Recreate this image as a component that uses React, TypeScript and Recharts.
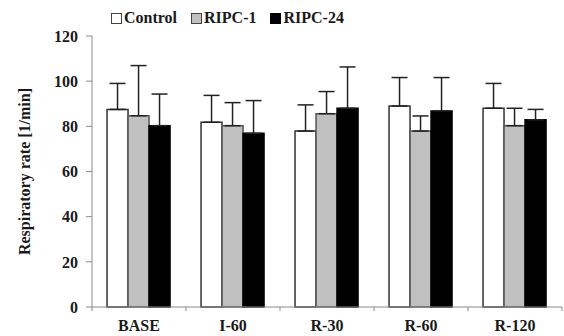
import React from "react";
import { BarChart, Bar, XAxis, YAxis, ErrorBar } from "recharts";

const categories = ["BASE", "I-60", "R-30", "R-60", "R-120"];
const control = [87.5, 81.8, 77.9, 89, 88];
const controlErr = [11.5, 11.9, 11.6, 12.6, 11];
const ripc1 = [84.7, 80.3, 85.6, 77.9, 80.3];
const ripc1Err = [22.2, 10.2, 9.8, 6.7, 7.7];
const ripc24 = [80.3, 76.9, 88, 86.8, 82.9];
const ripc24Err = [14, 14.5, 18.3, 14.8, 4.6];
const yTicks = [0, 20, 40, 60, 80, 100, 120];

const FONT = "Liberation Serif, serif";
const TEXT = "#1a1a1a";
const AXIS = "#8a8a8a";

const SERIES = [
  { key: "control", name: "Control", fill: "#ffffff", stroke: "#333333" },
  { key: "ripc1", name: "RIPC-1", fill: "#c0c0c0", stroke: "#555555" },
  { key: "ripc24", name: "RIPC-24", fill: "#000000", stroke: "#000000" },
];

// error bars only go upward: [low, high]
const data = categories.map((c, i) => ({
  name: c,
  control: control[i],
  controlErr: [0, controlErr[i]],
  ripc1: ripc1[i],
  ripc1Err: [0, ripc1Err[i]],
  ripc24: ripc24[i],
  ripc24Err: [0, ripc24Err[i]],
}));

const textStyle = { fontFamily: FONT, fontWeight: 700, fontSize: 16, fill: TEXT };

function XTick(props: any) {
  const { x, y, payload, index, width } = props;
  const half = payload?.offset || width / categories.length / 2;
  const axisY = y - 13;
  return (
    <g>
      <line x1={x - half} y1={axisY} x2={x - half} y2={axisY + 4} stroke={AXIS} />
      {index === categories.length - 1 && (
        <line x1={x + half} y1={axisY} x2={x + half} y2={axisY + 4} stroke={AXIS} />
      )}
      <text x={x} y={y} dy="0.71em" textAnchor="middle" style={textStyle}>
        {payload.value}
      </text>
    </g>
  );
}

function YTick(props: any) {
  const { x, y, payload } = props;
  return (
    <text x={x} y={y} dy="0.355em" textAnchor="end" style={textStyle}>
      {payload.value}
    </text>
  );
}

function ChartLegend() {
  return (
    <div
      style={{
        position: "absolute",
        top: 9,
        left: 111,
        display: "flex",
        alignItems: "center",
        fontFamily: FONT,
        fontWeight: 700,
        fontSize: 16,
        color: TEXT,
        lineHeight: "18px",
      }}
    >
      {SERIES.map((s) => (
        <div key={s.key} style={{ display: "flex", alignItems: "center", marginRight: 14 }}>
          <div
            style={{
              width: 9,
              height: 9,
              background: s.fill,
              border: `1px solid ${s.stroke === "#000000" ? "#000" : "#444"}`,
              marginRight: 2,
            }}
          />
          <span>{s.name}</span>
        </div>
      ))}
    </div>
  );
}

export default function App() {
  return (
    <div style={{ position: "absolute", left: 0, top: 0, width: 564, height: 336, background: "#fff" }}>
      <BarChart
        width={564}
        height={336}
        data={data}
        margin={{ top: 36, right: 2, bottom: 0, left: 0 }}
        barCategoryGap="16%"
        barGap={0}
      >
        <XAxis
          dataKey="name"
          height={29}
          stroke={AXIS}
          tickLine={false}
          tickSize={6}
          tickMargin={7}
          tick={<XTick />}
          interval={0}
        />
        <YAxis
          domain={[0, 120]}
          ticks={yTicks}
          width={92}
          stroke={AXIS}
          tickSize={6}
          tickMargin={8}
          tick={<YTick />}
          label={{
            value: "Respiratory rate [1/min]",
            angle: -90,
            position: "insideLeft",
            dx: 19,
            dy: 0,
            style: { ...textStyle, textAnchor: "middle" },
          }}
        />
        {SERIES.map((s) => (
          <Bar
            key={s.key}
            dataKey={s.key}
            name={s.name}
            fill={s.fill}
            stroke={s.stroke}
            strokeWidth={1.5}
            isAnimationActive={false}
          >
            <ErrorBar dataKey={`${s.key}Err`} width={8} stroke="#222" strokeWidth={1.5} />
          </Bar>
        ))}
      </BarChart>
      <ChartLegend />
    </div>
  );
}
